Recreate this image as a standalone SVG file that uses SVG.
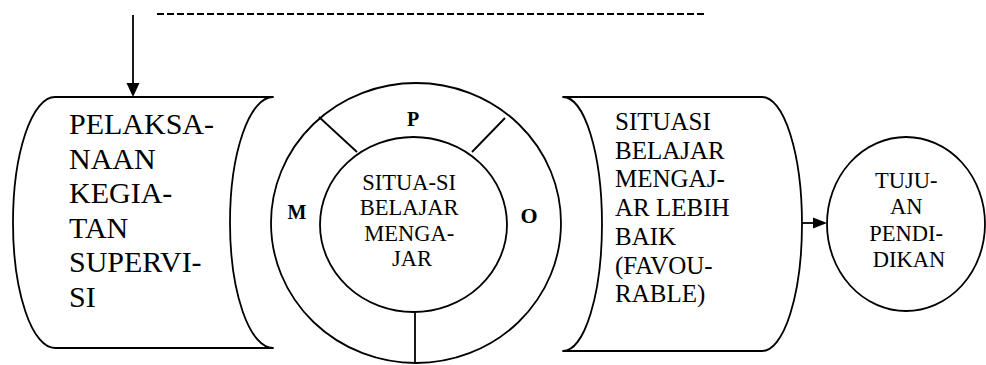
<svg xmlns="http://www.w3.org/2000/svg" width="986" height="365" viewBox="0 0 986 365" font-family="Liberation Serif, Times New Roman, Times, serif">
  <defs>
    <style>
      .ln { fill: none; stroke: #000; stroke-width: 1.8; }
      .shp { fill: #fff; stroke: #000; stroke-width: 1.8; stroke-linejoin: round; }
      .head { fill: #000; stroke: none; }
      text { font-family: 'Liberation Serif', 'Times New Roman', Times, serif; fill: #000; }
      .big { font-size: 30px; }
      .mid { font-size: 25px; }
      .sm { font-size: 22.5px; text-anchor: middle; }
      .lbl { font-size: 20px; font-weight: bold; text-anchor: middle; }
    </style>
  </defs>
  <rect width="986" height="365" fill="#fff"/>

  <!-- connectors -->
  <g id="connectors">
    <line class="ln" x1="157" y1="14" x2="707" y2="14" stroke-dasharray="7 3"/>
    <line class="ln" x1="133" y1="15" x2="133" y2="85"/>
    <polygon class="head" points="126.5,83 139.5,83 133,97"/>
    <line class="ln" x1="802" y1="223" x2="815" y2="223"/>
    <polygon class="head" points="813,217.5 827,223 813,228.5"/>
  </g>

  <!-- supervision activity (stored-data shape) -->
  <g id="pelaksanaan">
    <path class="shp" d="M55,97 L273,97 A43,125.5 0 0 0 273,348 L55,348 A42,125.5 0 0 1 55,97 Z"/>
    <text class="big" x="69">
      <tspan x="69" y="134">PELAKSA-</tspan>
      <tspan x="69" y="168.6">NAAN</tspan>
      <tspan x="69" y="203.2">KEGIA-</tspan>
      <tspan x="69" y="237.8">TAN</tspan>
      <tspan x="69" y="272.4">SUPERVI-</tspan>
      <tspan x="69" y="307">SI</tspan>
    </text>
  </g>

  <!-- teaching-learning situation ring -->
  <g id="situasi-ring">
    <ellipse class="ln" cx="416" cy="223" rx="145" ry="140"/>
    <ellipse class="ln" cx="413.5" cy="224.5" rx="93.5" ry="87.5"/>
    <line class="ln" x1="319" y1="117" x2="357" y2="152"/>
    <line class="ln" x1="505" y1="118" x2="472" y2="152"/>
    <line class="ln" x1="415" y1="312" x2="415" y2="364"/>
    <text class="lbl" x="413" y="126">P</text>
    <text class="lbl" x="297" y="219">M</text>
    <text class="lbl" x="529" y="223" style="font-size:22px">O</text>
    <text class="sm">
      <tspan x="412" y="190">SITUA-SI</tspan>
      <tspan x="412" y="215.3">BELAJAR</tspan>
      <tspan x="412" y="240.6">MENGA-</tspan>
      <tspan x="412" y="266">JAR</tspan>
    </text>
  </g>

  <!-- better learning situation (mirrored stored-data shape) -->
  <g id="situasi-baik">
    <path class="shp" d="M563,97 L762,97 A40,127 0 0 1 762,351 L563,351 A39,127 0 0 0 563,97 Z"/>
    <text class="mid">
      <tspan x="615" y="130">SITUASI</tspan>
      <tspan x="615" y="158.7">BELAJAR</tspan>
      <tspan x="615" y="187.4">MENGAJ-</tspan>
      <tspan x="615" y="216.1">AR LEBIH</tspan>
      <tspan x="615" y="244.8">BAIK</tspan>
      <tspan x="615" y="273.5">(FAVOU-</tspan>
      <tspan x="615" y="302.2">RABLE)</tspan>
    </text>
  </g>

  <!-- education goal -->
  <g id="tujuan">
    <ellipse class="ln" cx="906" cy="224" rx="79" ry="87"/>
    <text class="sm">
      <tspan x="909" y="188">TUJU-</tspan>
      <tspan x="909" y="214">AN</tspan>
      <tspan x="909" y="241">PENDI-</tspan>
      <tspan x="909" y="267">DIKAN</tspan>
    </text>
  </g>
</svg>
